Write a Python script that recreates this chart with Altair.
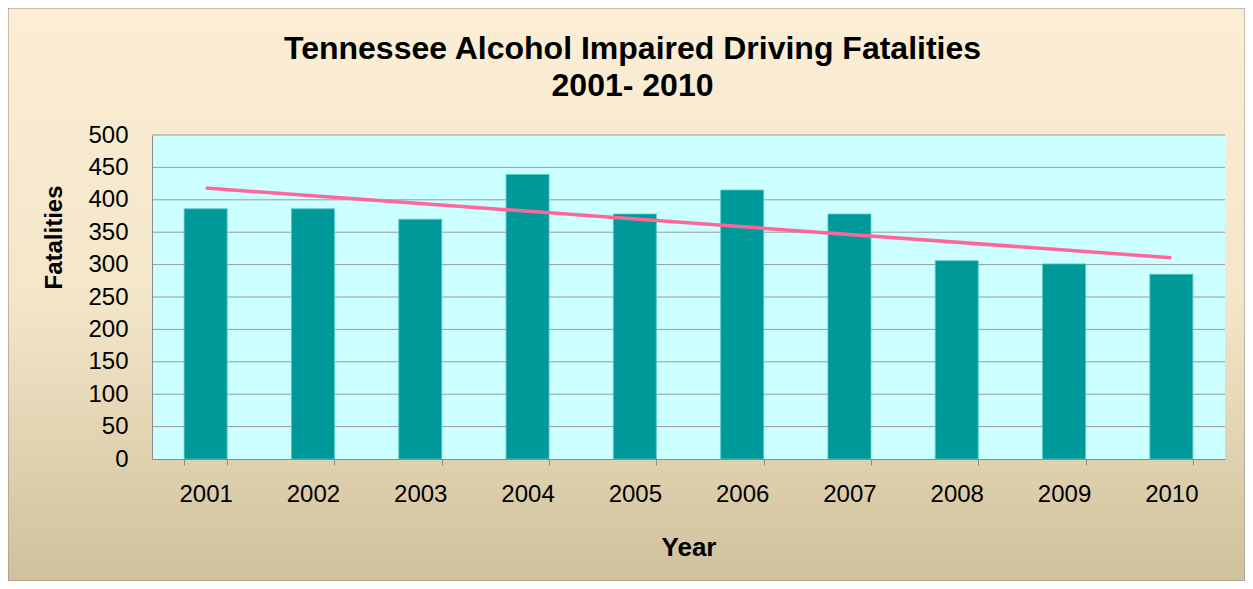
import altair as alt
import pandas as pd

years = [2001, 2002, 2003, 2004, 2005, 2006, 2007, 2008, 2009, 2010]
fatalities = [386, 386, 370, 439, 378, 415, 378, 306, 301, 285]
y_ticks = [0, 50, 100, 150, 200, 250, 300, 350, 400, 450, 500]
grid_values = [50, 100, 150, 200, 250, 300, 350, 400, 450, 500]
title_lines = ["Tennessee Alcohol Impaired Driving Fatalities", "2001- 2010"]

df = pd.DataFrame({"Year": years, "Fatalities": fatalities})
grid_df = pd.DataFrame({"v": grid_values})
one = alt.Data(values=[{"a": 1}])

W, H = 1073, 324
PL, PT, PR, PB = 144, 127, 20, 122
FONT = "Liberation Sans"

bg_grad = alt.Gradient(
    gradient="linear",
    stops=[alt.GradientStop(color="#FCEED5", offset=0),
           alt.GradientStop(color="#F4E6C9", offset=0.5),
           alt.GradientStop(color="#D0C19C", offset=1)],
    x1=0, x2=0, y1=0, y2=1,
)

background = alt.Chart(one).mark_rect(fill=bg_grad, stroke="#8C8C8C", strokeWidth=1).encode(
    x=alt.value(-PL), x2=alt.value(W + PR), y=alt.value(-PT), y2=alt.value(H + PB)
)
plot_bg = alt.Chart(one).mark_rect(fill="#CCFFFF").encode(
    x=alt.value(0), x2=alt.value("width"), y=alt.value(0), y2=alt.value("height")
)

xenc = alt.X(
    "Year:O",
    scale=alt.Scale(paddingInner=0.6, paddingOuter=0.3),
    axis=alt.Axis(
        title="Year", titleFont=FONT, titleFontSize=26, titleFontWeight="bold", titleColor="#000000",
        titleY=88, titleBaseline="middle",
        labelAngle=0, labelFont=FONT, labelFontSize=24, labelColor="#000000", labelPadding=17,
        ticks=True, tickSize=6, tickColor="#8C8C8C", tickBand="extent",
        domainColor="#8C8C8C", domainWidth=1, grid=False, zindex=1,
    ),
)
yscale = alt.Scale(domain=[0, 500], nice=False)
yaxis = alt.Axis(
    values=y_ticks, title="Fatalities", titleFont=FONT, titleFontSize=24, titleFontWeight="bold",
    titleColor="#000000", titleX=-98, titleY=102, titleBaseline="middle", titleAlign="center",
    labelFont=FONT, labelFontSize=24, labelColor="#000000", labelPadding=24,
    ticks=False, domainColor="#8C8C8C", domainWidth=1, grid=False, zindex=1,
)

grid = alt.Chart(grid_df).mark_rule(color="#9A9A9A", strokeWidth=1).encode(
    y=alt.Y("v:Q", scale=yscale, axis=yaxis, title="Fatalities")
)

bars = alt.Chart(df).mark_bar(color="#009999", stroke="#4FC4C4", strokeWidth=0.8).encode(
    x=xenc,
    y=alt.Y("Fatalities:Q", scale=yscale, axis=yaxis),
)

trend = alt.Chart(df).transform_regression("Year", "Fatalities").mark_line(
    color="#FF6699", strokeWidth=3.5
).encode(
    x=alt.X("Year:O"),
    y=alt.Y("Fatalities:Q", scale=yscale, axis=yaxis),
)

chart = alt.layer(background, plot_bg, grid, bars, trend).properties(
    width=W, height=H,
    padding={"left": PL, "top": PT, "right": PR, "bottom": PB},
    autosize=alt.AutoSizeParams(type="none"),
    background="white",
    title=alt.TitleParams(
        text=title_lines, font=FONT, fontSize=32, fontWeight="bold", color="#000000",
        lineHeight=37, anchor="middle", frame="group", dx=-56, dy=99,
    ),
).configure_view(stroke=None)

chart.save("out.html", embed_options={"renderer": "svg", "actions": False})
